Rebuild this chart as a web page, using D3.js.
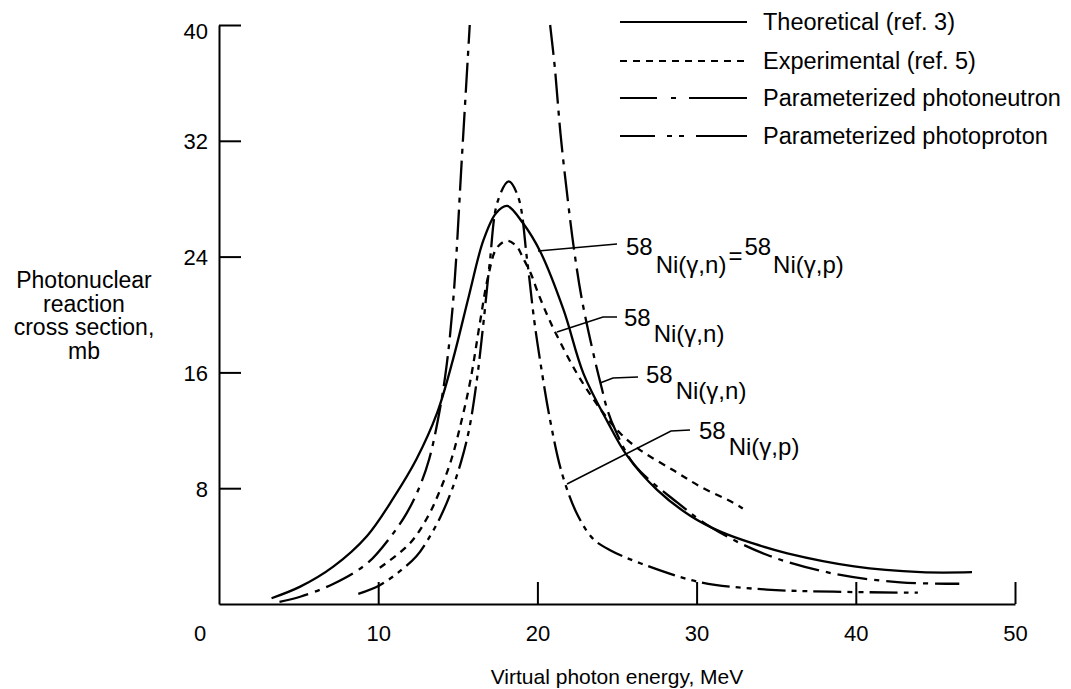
<!DOCTYPE html>
<html>
<head>
<meta charset="utf-8">
<script src="https://cdn.jsdelivr.net/npm/d3@7.9.0/dist/d3.min.js"></script>
<style>
  body { margin: 0; background: #fff; }
  svg { display: block; font-family: 'Liberation Sans', Arial, Helvetica, sans-serif; }
  .axis path, .axis line { stroke: #000; stroke-width: 2; }
  .axis text { font-size: 22px; fill: #000; }
  .curve { fill: none; stroke: #000; stroke-width: 2.3; }
</style>
</head>
<body>
<svg id="chart" width="1071" height="689"></svg>
<script>
// values: [energy MeV, cross section mb]
const theoretical = [
  [3.3, 0.4], [5.1, 1.2], [7.2, 2.6], [9.3, 4.7], [11.0, 7.4], [12.4, 10.0],
  [13.7, 13.2], [14.7, 16.9], [15.7, 21.3], [16.6, 25.1], [17.4, 27.0], [18.1, 27.5],
  [19.1, 26.3], [20.2, 24.3], [21.65, 20.3], [22.9, 15.9], [24.4, 12.6], [25.6, 10.3],
  [27.5, 7.9], [29.6, 6.1], [31.5, 5.0], [33.5, 4.2], [35.7, 3.5], [39.9, 2.6],
  [44.1, 2.2], [47.3, 2.2]
];
const experimental = [
  [10.1, 2.5], [12.0, 4.2], [13.1, 6.0], [13.9, 7.9], [14.6, 10.0], [15.2, 12.5],
  [15.8, 15.5], [16.4, 19.5], [16.9, 22.6], [17.45, 24.6], [18.1, 25.1], [18.7, 24.7],
  [19.1, 23.9], [19.6, 22.8], [20.0, 21.6], [20.6, 20.0], [21.2, 18.6], [22.5, 15.9],
  [24.0, 13.4], [25.2, 11.8], [26.5, 10.6], [28.6, 9.2], [30.25, 8.1], [32.3, 7.0],
  [32.9, 6.6]
];
// runs off the top of the frame, so the middle is a gap
const photoneutron = [
  [3.8, 0.15], [5.1, 0.5], [7.2, 1.4], [9.3, 2.8], [10.75, 4.6], [11.8, 6.3],
  [12.6, 8.1], [13.2, 10.0], [13.8, 13.0], [14.3, 16.5], [14.75, 21.5], [15.25, 30.7],
  [15.75, 40], null,
  [20.8, 40], [21.1, 37], [21.45, 32.5], [21.9, 28], [22.3, 24.5], [22.8, 21.0],
  [23.6, 16.9], [24.0, 15.1], [24.4, 13.4], [24.9, 12.0], [26.1, 9.6], [28.8, 7.0],
  [30.9, 5.3], [34.4, 3.4], [38.6, 2.1], [42.8, 1.5], [46.5, 1.4]
];
const photoproton = [
  [8.75, 0.7], [10.1, 1.3], [11.4, 2.3], [12.4, 3.3], [13.1, 4.4], [13.9, 6.0],
  [14.6, 7.8], [15.2, 9.8], [15.7, 12.0], [16.2, 15.5], [16.6, 19.3], [17.0, 23.5],
  [17.5, 27.8], [18.2, 29.2], [18.8, 28.1], [19.35, 23.8], [19.8, 19.6], [20.2, 16.6],
  [20.8, 12.7], [21.55, 9.0], [22.5, 6.2], [23.5, 4.5], [24.6, 3.7], [26.5, 2.8],
  [30.25, 1.5], [34.4, 1.0], [38.6, 0.85], [43.9, 0.78]
];

const xTicks = [10, 20, 30, 40, 50];
const yTicks = [8, 16, 24, 32, 40];
const legendLabels = ['Theoretical (ref. 3)', 'Experimental (ref. 5)',
  'Parameterized photoneutron', 'Parameterized photoproton'];
const yTitle = ['Photonuclear', 'reaction', 'cross section,', 'mb'];
const xTitle = 'Virtual photon energy, MeV';

const svg = d3.select('#chart');
const x = d3.scaleLinear().domain([0, 50]).range([219, 1015]);
const y = d3.scaleLinear().domain([0, 40]).range([604, 25]);

const series = [
  { data: theoretical, dash: null, legendDash: null },
  { data: experimental, dash: '7,6', legendDash: '7,6' },
  { data: photoneutron, dash: '30,7,5,7', legendDash: '37,14,5,13,60' },
  { data: photoproton, dash: '28,6,5,6,5,6', legendDash: '35,12,5,7,5,12,60' }
];

// axes, ticks pointing inward
let yAxis = svg.append('g').attr('class', 'axis')
  .attr('transform', `translate(${x(0)},0)`)
  .call(d3.axisLeft(y).tickValues(yTicks).tickSize(-22).tickSizeOuter(0).tickPadding(11));
let xAxis = svg.append('g').attr('class', 'axis')
  .attr('transform', `translate(0,${y(0)})`)
  .call(d3.axisBottom(x).tickValues(xTicks).tickSize(-22).tickSizeOuter(0).tickPadding(0));
xAxis.selectAll('text').attr('y', 29).attr('dy', '0.36em');
yAxis.selectAll('text').attr('dy', (d) => d === 40 ? '0.6em' : '0.36em');
svg.selectAll('.axis text').attr('font-family', null);

svg.append('text')
  .attr('x', 200).attr('y', y(0) + 29).attr('dy', '0.36em')
  .attr('text-anchor', 'middle').attr('font-size', 22)
  .text('0');

let line = d3.line()
  .defined((d) => d)
  .x((d) => x(d[0]))
  .y((d) => y(d[1]))
  .curve(d3.curveCatmullRom.alpha(0.5));

series.forEach((s) => {
  svg.append('path')
    .attr('class', 'curve')
    .attr('d', line(s.data))
    .attr('stroke-dasharray', s.dash);
});

// legend
legendLabels.forEach((label, i) => {
  let ly = [22, 61, 98, 136][i];
  svg.append('line')
    .attr('x1', 620).attr('x2', 747).attr('y1', ly).attr('y2', ly)
    .attr('stroke', '#000').attr('stroke-width', 2)
    .attr('stroke-dasharray', series[i].legendDash);
  svg.append('text')
    .attr('x', 763).attr('y', ly).attr('dy', '0.35em')
    .attr('font-size', 23.5)
    .text(label);
});

// annotations with leader lines; parts are [text, baseline shift, gap before]
const notes = [
  { pts: [[538, 251], [617, 244]], x: 626, y: 264,
    parts: [['58', -9, 0], ['Ni(γ,n)', 9, 3], ['=', 0, 2], ['58', -9, 2], ['Ni(γ,p)', 9, 2]] },
  { pts: [[557, 332], [603, 317], [617, 317]], x: 624, y: 334, parts: [['58', -8, 0], ['Ni(γ,n)', 8, 3]] },
  { pts: [[600, 383], [613, 378], [638, 377]], x: 646, y: 391, parts: [['58', -8, 0], ['Ni(γ,n)', 8, 3]] },
  { pts: [[567, 484], [671, 431], [690, 430]], x: 699, y: 447, parts: [['58', -8, 0], ['Ni(γ,p)', 8, 3]] }
];
notes.forEach((n) => {
  svg.append('path')
    .attr('d', d3.line()(n.pts))
    .attr('fill', 'none').attr('stroke', '#000').attr('stroke-width', 1.6);
  let t = svg.append('text').attr('x', n.x).attr('y', n.y).attr('font-size', 24);
  n.parts.forEach(([s, shift, gap], j) => {
    let prev = j > 0 ? n.parts[j - 1][1] : 0;
    t.append('tspan')
      .attr('dx', gap)
      .attr('dy', j === 0 ? shift : shift - prev)
      .text(s);
  });
});

// axis titles
svg.append('text')
  .attr('x', 617).attr('y', 684)
  .attr('text-anchor', 'middle').attr('font-size', 21)
  .text(xTitle);
yTitle.forEach((s, i) => {
  svg.append('text')
    .attr('x', 84).attr('y', 288 + i * 23.5)
    .attr('text-anchor', 'middle').attr('font-size', 23)
    .text(s);
});
</script>
</body>
</html>
